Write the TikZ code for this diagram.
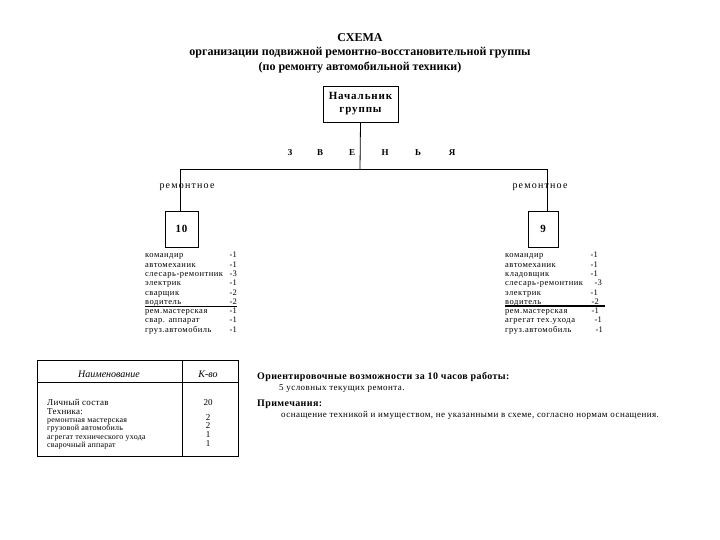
\documentclass[tikz,border=0pt]{standalone}
\usepackage{fontspec}
\setmainfont{Liberation Serif}
\begin{document}
\begin{tikzpicture}[x=1pt,y=-1pt,
  line/.style={draw=black,line width=0.8pt},
  boxnode/.style={draw=black,line width=0.8pt,font=\bfseries\fontsize{11}{13}\selectfont\addfontfeature{LetterSpace=8},align=center,inner sep=0pt},
  titletxt/.style={font=\bfseries\fontsize{12}{13}\selectfont,anchor=center,inner sep=0pt},
  letter/.style={font=\bfseries\fontsize{9}{10}\selectfont,inner sep=0pt},
  lbl/.style={font=\fontsize{10}{11}\selectfont\addfontfeature{LetterSpace=12},inner sep=0pt},
  itemname/.style={font=\fontsize{8.5}{9}\selectfont\addfontfeature{LetterSpace=6},anchor=base west,inner sep=0pt},
  itemnum/.style={font=\fontsize{8.5}{9}\selectfont,anchor=base east,inner sep=0pt},
  tabtxt/.style={font=\fontsize{9}{10}\selectfont\addfontfeature{LetterSpace=3},anchor=base west,inner sep=0pt},
  tabsmall/.style={font=\fontsize{8}{9}\selectfont\addfontfeature{LetterSpace=3},anchor=base west,inner sep=0pt},
  tabnum/.style={font=\fontsize{9}{10}\selectfont,anchor=base,inner sep=0pt},
  note/.style={font=\fontsize{9}{10}\selectfont\addfontfeature{LetterSpace=5},anchor=base west,inner sep=0pt},
  notehead/.style={font=\bfseries\fontsize{10}{11}\selectfont\addfontfeature{LetterSpace=4},anchor=base west,inner sep=0pt}
]
\useasboundingbox[fill=white] (0,0) rectangle (720,540);

% title
\node[titletxt] (t1) at (360,38) {СХЕМА};
\node[titletxt] (t2) at (360,53) {организации подвижной ремонтно-восстановительной группы};
\node[titletxt] (t3) at (360,68) {(по ремонту автомобильной техники)};

% chief
\node[boxnode,minimum width=75pt,minimum height=36pt] (chief) at (360.5,104) {Начальник\\группы};

% letters
\node[letter] (z1) at (290,153) {З};
\node[letter] (z2) at (320,153) {В};
\node[letter] (z3) at (352,153) {Е};
\node[letter] (z4) at (385,153) {Н};
\node[letter] (z5) at (418,153) {Ь};
\node[letter] (z6) at (452,153) {Я};

% bus
\coordinate (busM) at (360,169);
\coordinate (busL) at (180,169);
\coordinate (busR) at (547,169);
\draw[line] (chief.south) -- (busM);
\draw[line] (busL) -- (busR);

% unit boxes
\node[boxnode,minimum width=33pt,minimum height=36pt] (b10) at (181.5,229) {10};
\node[boxnode,minimum width=30pt,minimum height=36pt] (b9) at (543,229) {9};
\draw[line] (busL) -- (busL |- b10.north);
\draw[line] (busR) -- (busR |- b9.north);

\node[lbl] (rl) at (187,187) {ремонтное};
\node[lbl] (rr) at (540,187) {ремонтное};

% left list
\foreach \n/\v [count=\i] in {командир/-1,автомеханик/-1,слесарь-ремонтник/-3,электрик/-1,сварщик/-2,водитель/-2,рем.мастерская/-1,свар. аппарат/-1,груз.автомобиль/-1}{
  \node[itemname] (ln\i) at (145,{258+(\i-1)*9.25}) {\n};
  \node[itemnum] (lv\i) at (237,{258+(\i-1)*9.25}) {\v};
}
\draw[line,line width=1.3pt] (145,306.5) -- (237,306.5);

% right list
\foreach \n/\v/\xx [count=\i] in {командир/-1/598,автомеханик/-1/598,кладовщик/-1/598,слесарь-ремонтник/-3/602,электрик/-1/598,водитель/-2/599,рем.мастерская/-1/599,агрегат тех.ухода/-1/602,груз.автомобиль/-1/603}{
  \node[itemname] (rn\i) at (505,{258+(\i-1)*9.25}) {\n};
  \node[itemnum] (rv\i) at (\xx,{258+(\i-1)*9.25}) {\v};
}
\draw[line,line width=1.3pt] (505,306) -- (605,306);

% table
\draw[line] (37,360) rectangle (238,456);
\draw[line] (182,360) -- (182,456);
\draw[line] (37,382) -- (238,382);
\node[font=\itshape\fontsize{10}{11}\selectfont,inner sep=0pt] (h1) at (109,374) {Наименование};
\node[font=\itshape\fontsize{10}{11}\selectfont,inner sep=0pt] (h2) at (208,374) {К-во};
\node[tabtxt] (c1) at (47,405) {Личный состав};
\node[tabtxt] (c2) at (47,414) {Техника:};
\node[tabsmall] (c3) at (47,422) {ремонтная мастерская};
\node[tabsmall] (c4) at (47,430.5) {грузовой автомобиль};
\node[tabsmall] (c5) at (47,439) {агрегат технического ухода};
\node[tabsmall] (c6) at (47,447.5) {сварочный аппарат};
\node[tabnum] (n1) at (208,405.5) {20};
\node[tabnum] (n2) at (208,420) {2};
\node[tabnum] (n3) at (208,428) {2};
\node[tabnum] (n4) at (208,437) {1};
\node[tabnum] (n5) at (208,446) {1};

% notes
\node[notehead] (o1) at (257,379.5) {Ориентировочные возможности за 10 часов работы:};
\node[note] (o2) at (279,390) {5 условных текущих ремонта.};
\node[notehead] (o3) at (257,406.5) {Примечания:};
\node[note] (o4) at (281,417) {оснащение техникой и имуществом, не указанными в схеме, согласно нормам оснащения.};
\end{tikzpicture}
\end{document}
